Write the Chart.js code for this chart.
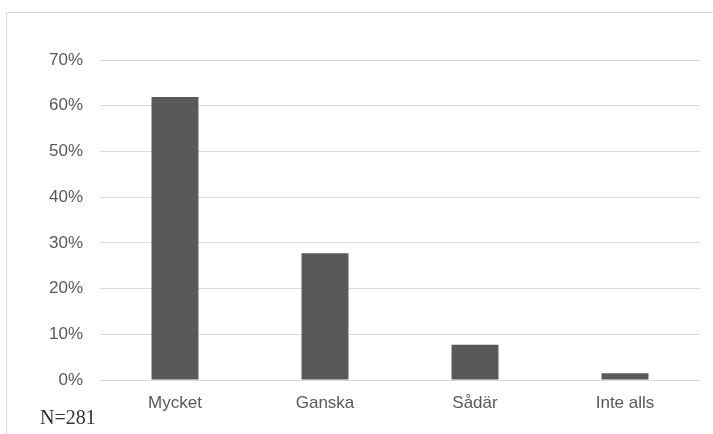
<!DOCTYPE html>
<html>
<head>
<meta charset="utf-8">
<script src="https://cdn.jsdelivr.net/npm/chart.js@4"></script>
<style>
  html, body { margin: 0; padding: 0; background: #fff; overflow: hidden; }
  #frame { position: absolute; left: 6px; top: 12px; width: 720px; height: 440px; border: 1px solid #d9d9d9; }
  #wrap { position: absolute; left: 0; top: 0; width: 713px; height: 434px; }
</style>
</head>
<body>
<div id="frame"></div>
<div id="wrap"><canvas id="chart" width="713" height="434"></canvas></div>
<script>
const categories = ['Mycket', 'Ganska', 'Sådär', 'Inte alls'];
const shares = [61.9, 27.7, 7.7, 1.5];
const noteText = 'N=281';

const notePlugin = {
  id: 'note',
  afterDraw(chart) {
    const ctx = chart.ctx;
    ctx.save();
    ctx.font = '20px "Liberation Serif", "Times New Roman", serif';
    ctx.fillStyle = '#333';
    ctx.textBaseline = 'alphabetic';
    ctx.fillText(noteText, 40, 424);
    ctx.restore();
  }
};

const ctx = document.getElementById('chart').getContext('2d');
new Chart(ctx, {
  type: 'bar',
  data: {
    labels: categories,
    datasets: [{
      data: shares,
      backgroundColor: '#595959',
      barPercentage: 0.313,
      categoryPercentage: 1
    }]
  },
  options: {
    responsive: false,
    animation: false,
    layout: { padding: { top: 60, right: 13, left: 0, bottom: 0 } },
    plugins: { legend: { display: false }, tooltip: { enabled: false } },
    scales: {
      x: {
        grid: { display: false },
        border: { display: false },
        ticks: { color: '#595959', font: { family: '"Liberation Sans", Arial, sans-serif', size: 17 }, padding: 5 },
        afterFit(s) { s.height = 54; }
      },
      y: {
        min: 0,
        max: 70,
        grid: { color: '#d9d9d9', lineWidth: 1, drawTicks: false },
        border: { display: false },
        ticks: {
          stepSize: 10,
          color: '#595959',
          font: { family: '"Liberation Sans", Arial, sans-serif', size: 17 },
          padding: 17,
          callback: v => v + '%'
        },
        afterFit(s) { s.width = 100; }
      }
    }
  },
  plugins: [notePlugin]
});
</script>
</body>
</html>
